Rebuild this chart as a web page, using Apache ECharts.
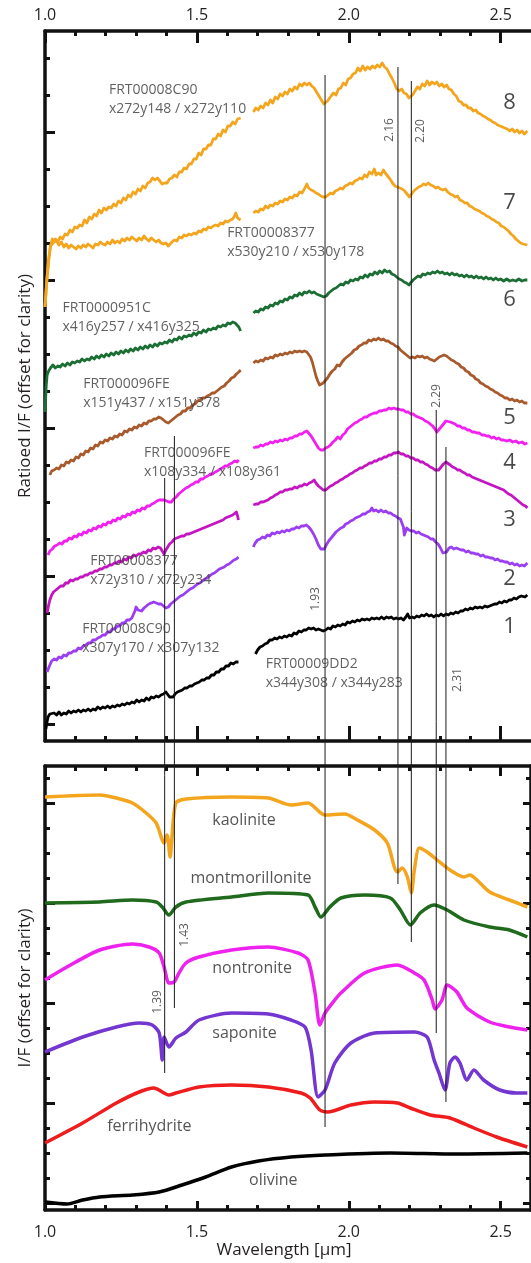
<!DOCTYPE html>
<html><head><meta charset="utf-8">
<script src="https://cdn.jsdelivr.net/npm/echarts@6/dist/echarts.min.js"></script>
<style>html,body{margin:0;padding:0;background:#fff}#c{width:531px;height:1263px}</style>
</head><body><div id="c"></div>
<script>
// ---------- axis ticks ----------
const wlTicks = [1.0, 1.5, 2.0, 2.5];
const wlMinor = [1.1,1.2,1.3,1.4,1.6,1.7,1.8,1.9,2.1,2.2,2.3,2.4];
const topMajor = [0.17,1.65,3.13,4.61,6.09];
const topMinor = [0.54,0.91,1.28,2.02,2.39,2.76,3.50,3.87,4.24,4.98,5.35,5.72,6.46,6.83];
const botMajor = [0.07,1.07,2.07,3.07,4.07];
const botMinor = [0.32,0.57,0.82,1.32,1.57,1.82,2.32,2.57,2.82,3.32,3.57,3.82,4.32];

// ---------- top panel: ratioed CRISM spectra (offset), gap 1.65-1.68 um ----------
const s8 = [[1.000,4.34],[1.006,4.60],[1.012,4.80],[1.018,4.95],[1.026,4.98],[1.034,5.02],[1.042,4.99],[1.050,5.04],[1.058,5.02],[1.066,5.07],[1.074,5.06],[1.082,5.11],[1.090,5.09],[1.098,5.14],[1.106,5.13],[1.114,5.16],[1.122,5.15],[1.130,5.21],[1.138,5.18],[1.146,5.24],[1.154,5.22],[1.162,5.27],[1.170,5.25],[1.178,5.31],[1.186,5.28],[1.194,5.33],[1.202,5.31],[1.210,5.34],[1.218,5.33],[1.226,5.37],[1.234,5.35],[1.242,5.40],[1.250,5.38],[1.258,5.43],[1.266,5.41],[1.274,5.46],[1.282,5.44],[1.290,5.49],[1.298,5.47],[1.306,5.52],[1.314,5.50],[1.322,5.55],[1.330,5.53],[1.338,5.58],[1.346,5.59],[1.354,5.63],[1.362,5.61],[1.370,5.63],[1.378,5.60],[1.386,5.57],[1.394,5.58],[1.402,5.58],[1.410,5.62],[1.418,5.63],[1.426,5.66],[1.434,5.64],[1.442,5.69],[1.450,5.69],[1.458,5.73],[1.466,5.72],[1.474,5.77],[1.482,5.77],[1.490,5.82],[1.498,5.82],[1.506,5.88],[1.514,5.86],[1.522,5.92],[1.530,5.92],[1.538,5.96],[1.546,5.96],[1.554,6.02],[1.562,6.02],[1.570,6.07],[1.578,6.05],[1.586,6.11],[1.594,6.09],[1.602,6.15],[1.610,6.15],[1.618,6.19],[1.626,6.17],[1.634,6.22],[1.644,6.23],[1.665,null],[1.686,6.29],[1.694,6.33],[1.702,6.31],[1.710,6.35],[1.718,6.33],[1.726,6.38],[1.734,6.36],[1.742,6.41],[1.750,6.38],[1.758,6.44],[1.766,6.42],[1.774,6.47],[1.782,6.45],[1.790,6.49],[1.798,6.47],[1.806,6.52],[1.814,6.50],[1.822,6.54],[1.830,6.52],[1.838,6.57],[1.846,6.55],[1.854,6.58],[1.862,6.56],[1.870,6.58],[1.878,6.55],[1.886,6.53],[1.894,6.49],[1.902,6.45],[1.910,6.41],[1.918,6.37],[1.924,6.36],[1.930,6.40],[1.936,6.42],[1.942,6.45],[1.950,6.48],[1.958,6.46],[1.966,6.52],[1.974,6.53],[1.982,6.58],[1.990,6.56],[1.998,6.62],[2.006,6.63],[2.014,6.67],[2.022,6.68],[2.030,6.73],[2.038,6.70],[2.046,6.75],[2.054,6.71],[2.062,6.74],[2.070,6.72],[2.078,6.75],[2.086,6.73],[2.094,6.76],[2.102,6.74],[2.110,6.78],[2.118,6.74],[2.126,6.72],[2.134,6.67],[2.142,6.63],[2.150,6.58],[2.158,6.52],[2.166,6.50],[2.174,6.52],[2.182,6.48],[2.190,6.47],[2.198,6.43],[2.204,6.41],[2.210,6.46],[2.218,6.50],[2.226,6.54],[2.234,6.52],[2.242,6.57],[2.250,6.55],[2.258,6.60],[2.266,6.56],[2.274,6.59],[2.282,6.57],[2.290,6.59],[2.298,6.55],[2.306,6.57],[2.314,6.54],[2.322,6.56],[2.330,6.52],[2.338,6.51],[2.346,6.47],[2.354,6.45],[2.362,6.40],[2.370,6.39],[2.378,6.36],[2.386,6.36],[2.394,6.33],[2.402,6.33],[2.410,6.30],[2.418,6.31],[2.426,6.28],[2.434,6.27],[2.442,6.25],[2.450,6.24],[2.458,6.22],[2.466,6.21],[2.474,6.19],[2.482,6.18],[2.490,6.16],[2.498,6.15],[2.506,6.14],[2.514,6.13],[2.522,6.12],[2.530,6.10],[2.538,6.12],[2.546,6.09],[2.554,6.11],[2.562,6.08],[2.570,6.10],[2.578,6.07],[2.588,6.10]];
const s7 = [[1.000,4.34],[1.006,4.62],[1.012,4.82],[1.018,4.95],[1.024,5.02],[1.030,4.99],[1.038,5.00],[1.046,4.96],[1.054,4.99],[1.062,4.94],[1.070,4.97],[1.078,4.93],[1.086,4.96],[1.094,4.94],[1.102,4.92],[1.110,4.95],[1.118,4.93],[1.126,4.96],[1.134,4.94],[1.142,4.97],[1.150,4.95],[1.158,4.93],[1.166,4.97],[1.174,4.96],[1.182,4.99],[1.190,4.97],[1.198,4.96],[1.206,4.99],[1.214,4.97],[1.222,5.01],[1.230,4.98],[1.238,5.00],[1.246,4.98],[1.254,5.02],[1.262,5.00],[1.270,5.03],[1.278,5.01],[1.286,5.04],[1.294,5.02],[1.302,5.00],[1.310,5.03],[1.318,5.01],[1.326,5.05],[1.334,5.02],[1.342,5.00],[1.350,5.03],[1.358,5.01],[1.366,4.99],[1.374,5.01],[1.382,4.98],[1.390,4.97],[1.398,4.98],[1.406,4.95],[1.412,4.96],[1.418,4.99],[1.426,5.01],[1.434,5.00],[1.442,5.04],[1.450,5.03],[1.458,5.06],[1.466,5.05],[1.474,5.07],[1.482,5.06],[1.490,5.08],[1.498,5.07],[1.506,5.10],[1.514,5.09],[1.522,5.12],[1.530,5.11],[1.538,5.14],[1.546,5.13],[1.554,5.15],[1.562,5.16],[1.570,5.15],[1.578,5.18],[1.586,5.17],[1.594,5.20],[1.602,5.19],[1.610,5.21],[1.618,5.22],[1.624,5.25],[1.628,5.28],[1.634,5.23],[1.644,5.21],[1.665,null],[1.686,5.28],[1.694,5.30],[1.702,5.29],[1.710,5.32],[1.718,5.31],[1.726,5.35],[1.734,5.33],[1.742,5.36],[1.750,5.35],[1.758,5.38],[1.766,5.37],[1.774,5.40],[1.782,5.39],[1.790,5.42],[1.798,5.41],[1.806,5.44],[1.814,5.43],[1.822,5.46],[1.830,5.45],[1.838,5.49],[1.846,5.48],[1.854,5.52],[1.862,5.57],[1.868,5.53],[1.876,5.51],[1.884,5.50],[1.892,5.48],[1.900,5.47],[1.908,5.45],[1.916,5.44],[1.924,5.44],[1.932,5.46],[1.940,5.48],[1.948,5.47],[1.956,5.50],[1.964,5.51],[1.972,5.53],[1.980,5.52],[1.988,5.55],[1.996,5.56],[2.004,5.58],[2.012,5.57],[2.020,5.60],[2.028,5.61],[2.036,5.63],[2.044,5.62],[2.052,5.66],[2.060,5.64],[2.068,5.69],[2.076,5.67],[2.084,5.72],[2.090,5.66],[2.098,5.68],[2.106,5.66],[2.114,5.71],[2.120,5.68],[2.128,5.65],[2.136,5.62],[2.144,5.58],[2.152,5.55],[2.160,5.54],[2.168,5.53],[2.176,5.52],[2.184,5.50],[2.192,5.47],[2.200,5.44],[2.206,5.45],[2.214,5.50],[2.222,5.52],[2.230,5.54],[2.238,5.55],[2.246,5.57],[2.254,5.56],[2.262,5.58],[2.270,5.56],[2.278,5.55],[2.286,5.53],[2.294,5.54],[2.302,5.52],[2.310,5.51],[2.318,5.52],[2.326,5.49],[2.334,5.47],[2.342,5.46],[2.350,5.44],[2.358,5.45],[2.366,5.41],[2.374,5.40],[2.382,5.38],[2.390,5.38],[2.398,5.35],[2.406,5.34],[2.414,5.32],[2.422,5.31],[2.430,5.30],[2.438,5.28],[2.446,5.27],[2.454,5.25],[2.462,5.24],[2.470,5.22],[2.478,5.21],[2.486,5.19],[2.494,5.18],[2.502,5.15],[2.510,5.14],[2.518,5.12],[2.526,5.10],[2.534,5.07],[2.542,5.05],[2.550,5.02],[2.558,5.00],[2.566,4.98],[2.574,4.97],[2.588,4.96]];
const s6 = [[1.000,3.29],[1.004,3.55],[1.007,3.66],[1.012,3.70],[1.018,3.73],[1.026,3.76],[1.034,3.73],[1.042,3.75],[1.050,3.74],[1.058,3.77],[1.066,3.75],[1.074,3.78],[1.082,3.76],[1.090,3.79],[1.098,3.78],[1.106,3.80],[1.114,3.79],[1.122,3.82],[1.130,3.80],[1.138,3.82],[1.146,3.81],[1.154,3.84],[1.162,3.82],[1.170,3.85],[1.178,3.83],[1.186,3.86],[1.194,3.84],[1.202,3.87],[1.210,3.85],[1.218,3.88],[1.226,3.86],[1.234,3.89],[1.242,3.87],[1.250,3.90],[1.258,3.88],[1.266,3.91],[1.274,3.89],[1.282,3.92],[1.290,3.90],[1.298,3.93],[1.306,3.91],[1.314,3.94],[1.322,3.92],[1.330,3.95],[1.338,3.93],[1.346,3.96],[1.354,3.94],[1.362,3.97],[1.370,3.95],[1.378,3.98],[1.386,3.97],[1.394,3.99],[1.402,3.98],[1.410,4.01],[1.418,3.99],[1.426,4.02],[1.434,4.01],[1.442,4.04],[1.450,4.02],[1.458,4.05],[1.466,4.04],[1.474,4.06],[1.482,4.05],[1.490,4.08],[1.498,4.06],[1.506,4.09],[1.514,4.08],[1.522,4.11],[1.530,4.09],[1.538,4.12],[1.546,4.11],[1.554,4.13],[1.562,4.12],[1.570,4.15],[1.578,4.14],[1.586,4.16],[1.594,4.15],[1.602,4.18],[1.610,4.17],[1.618,4.19],[1.626,4.18],[1.632,4.20],[1.638,4.14],[1.644,4.10],[1.665,null],[1.686,4.28],[1.694,4.30],[1.702,4.29],[1.710,4.32],[1.718,4.31],[1.726,4.34],[1.734,4.33],[1.742,4.36],[1.750,4.35],[1.758,4.38],[1.766,4.37],[1.774,4.40],[1.782,4.39],[1.790,4.42],[1.798,4.41],[1.806,4.44],[1.814,4.43],[1.822,4.46],[1.830,4.45],[1.838,4.48],[1.846,4.46],[1.854,4.49],[1.862,4.48],[1.870,4.50],[1.878,4.48],[1.886,4.49],[1.894,4.47],[1.902,4.46],[1.910,4.45],[1.918,4.44],[1.926,4.45],[1.934,4.48],[1.942,4.50],[1.950,4.52],[1.958,4.53],[1.966,4.55],[1.974,4.57],[1.982,4.56],[1.990,4.59],[1.998,4.58],[2.006,4.61],[2.014,4.60],[2.022,4.62],[2.030,4.61],[2.038,4.64],[2.046,4.63],[2.054,4.66],[2.062,4.64],[2.070,4.67],[2.078,4.66],[2.086,4.69],[2.094,4.67],[2.102,4.70],[2.110,4.68],[2.118,4.71],[2.126,4.69],[2.134,4.70],[2.142,4.67],[2.150,4.66],[2.158,4.64],[2.166,4.62],[2.174,4.61],[2.182,4.59],[2.190,4.58],[2.198,4.56],[2.204,4.57],[2.212,4.61],[2.220,4.63],[2.228,4.65],[2.236,4.64],[2.244,4.67],[2.252,4.66],[2.260,4.68],[2.268,4.67],[2.276,4.69],[2.284,4.68],[2.292,4.70],[2.300,4.68],[2.308,4.69],[2.316,4.67],[2.324,4.68],[2.332,4.66],[2.340,4.68],[2.348,4.66],[2.356,4.67],[2.364,4.65],[2.372,4.66],[2.380,4.64],[2.388,4.66],[2.396,4.64],[2.404,4.65],[2.412,4.63],[2.420,4.65],[2.428,4.63],[2.436,4.64],[2.444,4.62],[2.452,4.64],[2.460,4.62],[2.468,4.63],[2.476,4.61],[2.484,4.63],[2.492,4.61],[2.500,4.62],[2.510,4.60],[2.520,4.62],[2.530,4.60],[2.540,4.61],[2.550,4.60],[2.560,4.62],[2.570,4.60],[2.580,4.61],[2.588,4.61]];
const s5 = [[1.016,2.66],[1.022,2.70],[1.030,2.71],[1.038,2.73],[1.046,2.72],[1.054,2.76],[1.062,2.75],[1.070,2.79],[1.078,2.78],[1.086,2.81],[1.094,2.80],[1.102,2.84],[1.110,2.83],[1.118,2.87],[1.126,2.86],[1.134,2.90],[1.142,2.89],[1.150,2.93],[1.158,2.92],[1.166,2.96],[1.174,2.95],[1.182,2.99],[1.190,2.98],[1.198,3.01],[1.206,3.00],[1.214,3.03],[1.222,3.02],[1.230,3.05],[1.238,3.04],[1.246,3.07],[1.254,3.06],[1.262,3.10],[1.270,3.09],[1.278,3.12],[1.286,3.11],[1.294,3.14],[1.302,3.13],[1.310,3.16],[1.318,3.15],[1.326,3.18],[1.334,3.17],[1.342,3.20],[1.350,3.20],[1.358,3.22],[1.366,3.22],[1.374,3.24],[1.382,3.23],[1.390,3.21],[1.398,3.19],[1.406,3.18],[1.414,3.20],[1.422,3.22],[1.430,3.24],[1.438,3.26],[1.446,3.27],[1.454,3.30],[1.462,3.30],[1.470,3.33],[1.478,3.33],[1.486,3.36],[1.494,3.37],[1.502,3.40],[1.510,3.41],[1.518,3.43],[1.526,3.43],[1.534,3.45],[1.542,3.46],[1.550,3.48],[1.558,3.48],[1.566,3.50],[1.574,3.52],[1.582,3.54],[1.590,3.55],[1.598,3.58],[1.606,3.60],[1.614,3.63],[1.622,3.64],[1.630,3.67],[1.638,3.69],[1.644,3.71],[1.665,null],[1.686,3.78],[1.694,3.80],[1.702,3.79],[1.710,3.81],[1.718,3.80],[1.726,3.83],[1.734,3.82],[1.742,3.84],[1.750,3.83],[1.758,3.86],[1.766,3.85],[1.774,3.87],[1.782,3.86],[1.790,3.88],[1.798,3.87],[1.806,3.89],[1.814,3.88],[1.822,3.90],[1.830,3.89],[1.838,3.90],[1.846,3.89],[1.854,3.90],[1.862,3.89],[1.868,3.88],[1.874,3.84],[1.880,3.79],[1.886,3.72],[1.892,3.65],[1.898,3.60],[1.904,3.56],[1.910,3.56],[1.916,3.58],[1.922,3.59],[1.930,3.63],[1.938,3.67],[1.946,3.70],[1.954,3.72],[1.962,3.76],[1.970,3.75],[1.978,3.79],[1.986,3.82],[1.994,3.84],[2.002,3.86],[2.010,3.88],[2.018,3.91],[2.026,3.92],[2.034,3.95],[2.042,3.96],[2.050,3.98],[2.058,3.98],[2.066,4.01],[2.074,4.00],[2.082,4.02],[2.090,4.01],[2.098,4.03],[2.106,4.01],[2.114,4.02],[2.122,4.00],[2.130,4.00],[2.138,3.98],[2.146,3.97],[2.154,3.95],[2.162,3.94],[2.170,3.91],[2.178,3.89],[2.186,3.87],[2.194,3.85],[2.202,3.83],[2.210,3.84],[2.218,3.83],[2.226,3.85],[2.234,3.84],[2.242,3.85],[2.250,3.83],[2.258,3.84],[2.266,3.82],[2.274,3.81],[2.282,3.80],[2.290,3.82],[2.298,3.84],[2.306,3.85],[2.314,3.86],[2.322,3.85],[2.330,3.83],[2.338,3.81],[2.346,3.80],[2.354,3.78],[2.362,3.77],[2.370,3.74],[2.378,3.73],[2.386,3.70],[2.394,3.69],[2.402,3.66],[2.410,3.65],[2.418,3.62],[2.426,3.61],[2.434,3.58],[2.442,3.57],[2.450,3.55],[2.458,3.54],[2.466,3.52],[2.474,3.51],[2.482,3.49],[2.490,3.48],[2.498,3.46],[2.506,3.45],[2.514,3.43],[2.522,3.43],[2.530,3.41],[2.538,3.42],[2.546,3.40],[2.554,3.41],[2.562,3.39],[2.570,3.40],[2.578,3.38],[2.588,3.38]];
const s4 = [[1.010,1.86],[1.016,1.90],[1.024,1.92],[1.032,1.95],[1.040,1.96],[1.048,1.98],[1.056,1.97],[1.064,2.00],[1.072,2.00],[1.080,2.03],[1.088,2.02],[1.096,2.05],[1.104,2.04],[1.112,2.07],[1.120,2.06],[1.128,2.09],[1.136,2.08],[1.144,2.11],[1.152,2.10],[1.160,2.13],[1.168,2.12],[1.176,2.15],[1.184,2.14],[1.192,2.17],[1.200,2.16],[1.208,2.19],[1.216,2.18],[1.224,2.21],[1.232,2.20],[1.240,2.23],[1.248,2.22],[1.256,2.25],[1.264,2.24],[1.272,2.27],[1.280,2.26],[1.288,2.29],[1.296,2.28],[1.304,2.31],[1.312,2.30],[1.320,2.33],[1.328,2.32],[1.336,2.35],[1.344,2.35],[1.352,2.37],[1.360,2.38],[1.368,2.40],[1.376,2.41],[1.384,2.41],[1.392,2.41],[1.400,2.40],[1.408,2.39],[1.416,2.39],[1.424,2.42],[1.432,2.44],[1.440,2.47],[1.448,2.49],[1.456,2.51],[1.464,2.53],[1.472,2.54],[1.480,2.56],[1.488,2.57],[1.496,2.59],[1.504,2.59],[1.512,2.62],[1.520,2.62],[1.528,2.64],[1.536,2.65],[1.544,2.67],[1.552,2.67],[1.560,2.69],[1.568,2.70],[1.576,2.72],[1.584,2.73],[1.592,2.75],[1.600,2.75],[1.608,2.77],[1.616,2.78],[1.624,2.80],[1.632,2.79],[1.638,2.81],[1.660,null],[1.686,2.93],[1.694,2.94],[1.702,2.94],[1.710,2.96],[1.718,2.95],[1.726,2.97],[1.734,2.97],[1.742,2.99],[1.750,2.98],[1.758,3.00],[1.766,2.99],[1.774,3.01],[1.782,3.00],[1.790,3.02],[1.798,3.01],[1.806,3.03],[1.814,3.03],[1.822,3.05],[1.830,3.05],[1.838,3.07],[1.846,3.07],[1.854,3.09],[1.862,3.10],[1.868,3.08],[1.876,3.05],[1.884,3.01],[1.892,2.97],[1.900,2.93],[1.908,2.91],[1.916,2.91],[1.924,2.93],[1.932,2.94],[1.940,2.96],[1.948,2.99],[1.956,3.01],[1.964,3.04],[1.972,3.02],[1.980,3.06],[1.988,3.08],[1.996,3.12],[2.004,3.14],[2.012,3.16],[2.020,3.18],[2.028,3.19],[2.036,3.21],[2.044,3.22],[2.052,3.24],[2.060,3.24],[2.068,3.26],[2.076,3.27],[2.084,3.28],[2.092,3.28],[2.100,3.30],[2.108,3.30],[2.116,3.31],[2.124,3.31],[2.132,3.33],[2.140,3.32],[2.148,3.33],[2.156,3.32],[2.164,3.32],[2.172,3.31],[2.180,3.31],[2.188,3.29],[2.196,3.29],[2.204,3.27],[2.212,3.27],[2.220,3.25],[2.228,3.24],[2.236,3.23],[2.244,3.22],[2.252,3.20],[2.260,3.19],[2.268,3.17],[2.276,3.15],[2.284,3.12],[2.290,3.09],[2.296,3.11],[2.304,3.14],[2.312,3.17],[2.320,3.20],[2.326,3.21],[2.334,3.19],[2.342,3.18],[2.350,3.17],[2.358,3.15],[2.366,3.15],[2.374,3.13],[2.382,3.13],[2.390,3.11],[2.398,3.11],[2.406,3.09],[2.414,3.09],[2.422,3.08],[2.430,3.08],[2.438,3.06],[2.446,3.06],[2.454,3.05],[2.462,3.05],[2.470,3.03],[2.478,3.04],[2.486,3.02],[2.494,3.03],[2.502,3.01],[2.510,3.01],[2.520,3.00],[2.530,3.01],[2.540,2.99],[2.550,3.00],[2.560,2.98],[2.570,2.99],[2.580,2.97],[2.588,2.98]];
const s3 = [[1.007,1.28],[1.012,1.36],[1.016,1.41],[1.022,1.46],[1.028,1.49],[1.036,1.51],[1.044,1.53],[1.052,1.55],[1.060,1.55],[1.068,1.58],[1.076,1.58],[1.084,1.61],[1.092,1.60],[1.100,1.62],[1.108,1.62],[1.116,1.64],[1.124,1.64],[1.132,1.66],[1.140,1.66],[1.148,1.68],[1.156,1.68],[1.164,1.70],[1.172,1.70],[1.180,1.72],[1.188,1.72],[1.196,1.74],[1.204,1.74],[1.212,1.76],[1.220,1.76],[1.228,1.78],[1.236,1.78],[1.244,1.80],[1.252,1.79],[1.260,1.82],[1.268,1.81],[1.276,1.84],[1.284,1.83],[1.292,1.86],[1.300,1.85],[1.308,1.87],[1.316,1.87],[1.324,1.89],[1.332,1.88],[1.340,1.91],[1.348,1.90],[1.356,1.93],[1.364,1.92],[1.372,1.94],[1.380,1.93],[1.386,1.90],[1.392,1.87],[1.398,1.91],[1.404,1.94],[1.410,1.97],[1.418,1.99],[1.426,2.02],[1.434,2.03],[1.442,2.04],[1.450,2.05],[1.458,2.05],[1.466,2.07],[1.474,2.07],[1.482,2.08],[1.490,2.09],[1.498,2.10],[1.506,2.11],[1.514,2.12],[1.522,2.13],[1.530,2.14],[1.538,2.15],[1.546,2.16],[1.554,2.17],[1.562,2.18],[1.570,2.19],[1.578,2.20],[1.586,2.21],[1.594,2.23],[1.602,2.24],[1.610,2.25],[1.618,2.26],[1.624,2.27],[1.630,2.29],[1.634,2.25],[1.637,2.21],[1.660,null],[1.686,2.36],[1.694,2.37],[1.702,2.37],[1.710,2.39],[1.718,2.39],[1.726,2.40],[1.734,2.41],[1.742,2.43],[1.750,2.44],[1.758,2.46],[1.766,2.47],[1.774,2.49],[1.782,2.49],[1.790,2.51],[1.798,2.51],[1.806,2.52],[1.814,2.52],[1.822,2.54],[1.830,2.53],[1.838,2.55],[1.846,2.55],[1.854,2.57],[1.862,2.56],[1.870,2.58],[1.878,2.59],[1.886,2.61],[1.892,2.58],[1.900,2.55],[1.908,2.53],[1.916,2.51],[1.924,2.51],[1.932,2.53],[1.940,2.55],[1.948,2.56],[1.956,2.58],[1.964,2.59],[1.972,2.61],[1.980,2.62],[1.988,2.64],[1.996,2.65],[2.004,2.67],[2.012,2.68],[2.020,2.70],[2.028,2.71],[2.036,2.73],[2.044,2.73],[2.052,2.75],[2.060,2.76],[2.068,2.78],[2.076,2.78],[2.084,2.80],[2.092,2.80],[2.100,2.82],[2.108,2.82],[2.116,2.84],[2.124,2.84],[2.132,2.86],[2.140,2.86],[2.148,2.88],[2.156,2.88],[2.164,2.89],[2.172,2.87],[2.180,2.87],[2.188,2.85],[2.196,2.85],[2.204,2.83],[2.212,2.83],[2.220,2.81],[2.228,2.81],[2.236,2.79],[2.244,2.79],[2.252,2.77],[2.260,2.76],[2.268,2.74],[2.276,2.73],[2.284,2.71],[2.290,2.69],[2.296,2.71],[2.304,2.74],[2.312,2.77],[2.320,2.79],[2.326,2.79],[2.334,2.76],[2.342,2.74],[2.350,2.73],[2.358,2.71],[2.366,2.71],[2.374,2.69],[2.382,2.68],[2.390,2.66],[2.398,2.66],[2.406,2.64],[2.414,2.63],[2.422,2.62],[2.430,2.61],[2.438,2.60],[2.446,2.59],[2.454,2.58],[2.462,2.57],[2.470,2.56],[2.478,2.55],[2.486,2.54],[2.494,2.53],[2.502,2.52],[2.510,2.51],[2.518,2.49],[2.526,2.47],[2.534,2.46],[2.542,2.44],[2.550,2.42],[2.558,2.40],[2.566,2.38],[2.574,2.36],[2.582,2.35],[2.588,2.33]];
const s2 = [[1.007,0.69],[1.012,0.73],[1.016,0.76],[1.022,0.80],[1.030,0.82],[1.038,0.81],[1.046,0.84],[1.054,0.83],[1.062,0.86],[1.070,0.85],[1.078,0.88],[1.086,0.88],[1.094,0.90],[1.102,0.90],[1.110,0.93],[1.118,0.92],[1.126,0.95],[1.134,0.96],[1.142,0.98],[1.150,0.98],[1.158,1.01],[1.166,1.01],[1.174,1.03],[1.182,1.04],[1.190,1.06],[1.198,1.06],[1.206,1.09],[1.214,1.09],[1.222,1.12],[1.230,1.12],[1.238,1.15],[1.246,1.15],[1.254,1.18],[1.262,1.18],[1.270,1.21],[1.278,1.21],[1.286,1.23],[1.292,1.25],[1.296,1.30],[1.300,1.34],[1.306,1.31],[1.312,1.29],[1.318,1.30],[1.326,1.33],[1.334,1.35],[1.342,1.37],[1.350,1.38],[1.358,1.39],[1.366,1.38],[1.374,1.37],[1.382,1.37],[1.390,1.35],[1.398,1.33],[1.406,1.34],[1.414,1.37],[1.422,1.39],[1.430,1.41],[1.438,1.43],[1.446,1.45],[1.454,1.46],[1.462,1.48],[1.470,1.50],[1.478,1.52],[1.486,1.53],[1.494,1.55],[1.502,1.57],[1.510,1.58],[1.518,1.60],[1.526,1.62],[1.534,1.63],[1.542,1.65],[1.550,1.67],[1.558,1.68],[1.566,1.70],[1.574,1.72],[1.582,1.73],[1.590,1.74],[1.598,1.76],[1.606,1.77],[1.614,1.79],[1.622,1.81],[1.630,1.82],[1.637,1.84],[1.660,null],[1.686,1.94],[1.692,1.98],[1.700,2.01],[1.708,2.02],[1.716,2.04],[1.724,2.03],[1.732,2.06],[1.740,2.05],[1.748,2.08],[1.756,2.07],[1.764,2.09],[1.772,2.08],[1.780,2.10],[1.788,2.09],[1.796,2.11],[1.804,2.10],[1.812,2.12],[1.820,2.12],[1.828,2.14],[1.836,2.13],[1.844,2.15],[1.852,2.15],[1.860,2.16],[1.868,2.14],[1.876,2.11],[1.884,2.07],[1.892,2.02],[1.900,1.96],[1.908,1.92],[1.914,1.90],[1.920,1.92],[1.926,1.96],[1.934,2.00],[1.942,2.03],[1.950,2.06],[1.958,2.09],[1.966,2.11],[1.974,2.13],[1.982,2.14],[1.990,2.17],[1.998,2.18],[2.006,2.20],[2.014,2.21],[2.022,2.23],[2.030,2.24],[2.038,2.25],[2.046,2.27],[2.054,2.27],[2.062,2.29],[2.070,2.30],[2.076,2.33],[2.082,2.30],[2.090,2.31],[2.098,2.29],[2.106,2.31],[2.114,2.29],[2.122,2.30],[2.130,2.28],[2.138,2.28],[2.146,2.26],[2.154,2.25],[2.162,2.23],[2.170,2.22],[2.176,2.20],[2.180,2.14],[2.183,2.06],[2.187,2.08],[2.191,2.13],[2.198,2.11],[2.206,2.10],[2.214,2.10],[2.222,2.08],[2.230,2.09],[2.238,2.07],[2.246,2.06],[2.254,2.05],[2.262,2.04],[2.270,2.02],[2.278,2.02],[2.286,1.99],[2.294,1.97],[2.302,1.93],[2.310,1.88],[2.316,1.86],[2.322,1.89],[2.330,1.93],[2.338,1.94],[2.346,1.92],[2.354,1.93],[2.362,1.92],[2.370,1.91],[2.378,1.91],[2.386,1.89],[2.394,1.90],[2.402,1.88],[2.410,1.88],[2.418,1.87],[2.426,1.87],[2.434,1.85],[2.442,1.86],[2.450,1.84],[2.458,1.84],[2.466,1.83],[2.474,1.83],[2.482,1.81],[2.490,1.82],[2.498,1.80],[2.506,1.80],[2.514,1.79],[2.522,1.79],[2.530,1.77],[2.538,1.78],[2.546,1.76],[2.554,1.77],[2.562,1.75],[2.570,1.76],[2.578,1.75],[2.588,1.78]];
const s1 = [[1.003,0.12],[1.006,0.18],[1.010,0.24],[1.016,0.27],[1.022,0.25],[1.030,0.28],[1.038,0.26],[1.046,0.29],[1.054,0.26],[1.062,0.28],[1.070,0.27],[1.078,0.30],[1.086,0.28],[1.094,0.30],[1.102,0.29],[1.110,0.31],[1.118,0.29],[1.126,0.31],[1.134,0.30],[1.142,0.32],[1.150,0.30],[1.158,0.32],[1.166,0.31],[1.174,0.34],[1.182,0.32],[1.190,0.34],[1.198,0.33],[1.206,0.35],[1.214,0.33],[1.222,0.35],[1.230,0.34],[1.238,0.36],[1.246,0.35],[1.254,0.37],[1.262,0.36],[1.270,0.38],[1.278,0.37],[1.286,0.39],[1.294,0.38],[1.302,0.41],[1.310,0.39],[1.318,0.41],[1.326,0.40],[1.334,0.43],[1.342,0.41],[1.350,0.44],[1.358,0.43],[1.366,0.45],[1.374,0.44],[1.382,0.46],[1.390,0.47],[1.398,0.49],[1.404,0.47],[1.410,0.44],[1.416,0.42],[1.422,0.44],[1.428,0.47],[1.436,0.49],[1.444,0.50],[1.452,0.51],[1.460,0.53],[1.468,0.53],[1.476,0.55],[1.484,0.55],[1.492,0.57],[1.500,0.58],[1.508,0.59],[1.516,0.61],[1.524,0.61],[1.532,0.63],[1.540,0.63],[1.548,0.66],[1.556,0.66],[1.564,0.69],[1.572,0.69],[1.580,0.72],[1.588,0.72],[1.596,0.75],[1.604,0.75],[1.612,0.78],[1.620,0.77],[1.628,0.79],[1.637,0.79],[1.665,null],[1.693,0.87],[1.700,0.91],[1.708,0.94],[1.716,0.95],[1.724,0.97],[1.732,0.98],[1.740,1.01],[1.748,1.01],[1.756,1.03],[1.764,1.02],[1.772,1.04],[1.780,1.03],[1.788,1.05],[1.796,1.04],[1.804,1.06],[1.812,1.05],[1.820,1.08],[1.828,1.07],[1.836,1.10],[1.844,1.09],[1.852,1.11],[1.860,1.11],[1.868,1.13],[1.876,1.12],[1.884,1.13],[1.892,1.11],[1.900,1.12],[1.908,1.11],[1.916,1.10],[1.924,1.11],[1.932,1.13],[1.940,1.12],[1.948,1.15],[1.956,1.14],[1.964,1.16],[1.972,1.15],[1.980,1.17],[1.988,1.16],[1.996,1.19],[2.004,1.18],[2.012,1.20],[2.020,1.19],[2.028,1.21],[2.036,1.20],[2.044,1.22],[2.052,1.21],[2.060,1.22],[2.068,1.21],[2.076,1.23],[2.084,1.22],[2.092,1.23],[2.100,1.22],[2.108,1.24],[2.116,1.22],[2.124,1.24],[2.132,1.23],[2.140,1.24],[2.148,1.22],[2.156,1.23],[2.164,1.22],[2.172,1.23],[2.180,1.21],[2.188,1.24],[2.194,1.27],[2.200,1.23],[2.208,1.24],[2.216,1.23],[2.224,1.25],[2.232,1.24],[2.240,1.26],[2.248,1.25],[2.256,1.27],[2.264,1.25],[2.272,1.26],[2.280,1.24],[2.288,1.26],[2.296,1.25],[2.304,1.27],[2.312,1.25],[2.320,1.27],[2.328,1.26],[2.336,1.28],[2.344,1.27],[2.352,1.29],[2.360,1.28],[2.368,1.30],[2.376,1.30],[2.384,1.32],[2.392,1.31],[2.400,1.33],[2.408,1.32],[2.416,1.34],[2.424,1.33],[2.432,1.34],[2.440,1.33],[2.448,1.35],[2.456,1.34],[2.464,1.35],[2.472,1.36],[2.480,1.37],[2.488,1.37],[2.496,1.39],[2.504,1.38],[2.512,1.40],[2.520,1.39],[2.528,1.41],[2.536,1.41],[2.544,1.43],[2.552,1.42],[2.560,1.44],[2.568,1.45],[2.574,1.47],[2.580,1.44],[2.588,1.46]];

// ---------- bottom panel: library spectra (offset) ----------
const kaolinite = [[1.000,4.13],[1.180,4.15],[1.235,4.12],[1.288,4.07],[1.333,3.97],[1.366,3.87],[1.386,3.70],[1.392,3.67],[1.402,3.75],[1.412,3.53],[1.418,3.73],[1.431,4.07],[1.464,4.11],[1.614,4.13],[1.735,4.12],[1.810,4.05],[1.866,4.07],[1.908,3.97],[1.922,3.95],[1.987,3.96],[2.029,3.90],[2.085,3.80],[2.127,3.67],[2.150,3.43],[2.160,3.38],[2.176,3.42],[2.193,3.33],[2.206,3.17],[2.216,3.40],[2.232,3.62],[2.258,3.58],[2.291,3.50],[2.333,3.40],[2.379,3.33],[2.399,3.35],[2.422,3.30],[2.464,3.18],[2.529,3.10],[2.588,3.03]];
const montmorillonite = [[1.000,3.07],[1.180,3.08],[1.288,3.10],[1.366,3.08],[1.386,3.03],[1.408,2.95],[1.431,3.03],[1.464,3.08],[1.614,3.13],[1.735,3.17],[1.866,3.15],[1.889,3.03],[1.908,2.93],[1.938,3.03],[1.974,3.12],[2.052,3.15],[2.137,3.12],[2.170,3.00],[2.203,2.85],[2.235,2.97],[2.281,3.05],[2.324,3.00],[2.379,2.90],[2.464,2.83],[2.529,2.80],[2.588,2.73]];
const nontronite = [[1.000,2.30],[1.072,2.43],[1.180,2.60],[1.288,2.66],[1.343,2.63],[1.376,2.57],[1.392,2.43],[1.408,2.27],[1.425,2.28],[1.441,2.37],[1.464,2.47],[1.507,2.53],[1.614,2.60],[1.735,2.63],[1.833,2.57],[1.866,2.50],[1.889,2.17],[1.905,1.85],[1.922,1.97],[1.954,2.10],[1.974,2.17],[2.052,2.37],[2.160,2.45],[2.216,2.37],[2.248,2.30],[2.275,2.10],[2.284,2.01],[2.307,2.10],[2.324,2.25],[2.356,2.18],[2.389,2.02],[2.464,1.88],[2.529,1.83],[2.588,1.80]];
const saponite = [[1.000,1.58],[1.124,1.73],[1.235,1.83],[1.310,1.87],[1.353,1.85],[1.376,1.77],[1.386,1.50],[1.392,1.73],[1.408,1.63],[1.431,1.72],[1.464,1.78],[1.507,1.90],[1.614,1.97],[1.735,1.96],[1.810,1.90],[1.856,1.83],[1.876,1.60],[1.899,1.13],[1.922,1.20],[1.954,1.47],[2.007,1.67],[2.085,1.77],[2.216,1.78],[2.258,1.73],[2.281,1.50],[2.297,1.37],[2.317,1.20],[2.333,1.47],[2.350,1.53],[2.366,1.47],[2.389,1.30],[2.412,1.40],[2.444,1.30],[2.497,1.20],[2.552,1.17],[2.588,1.17]];
const ferrihydrite = [[1.000,0.67],[1.124,0.87],[1.235,1.07],[1.310,1.18],[1.359,1.22],[1.386,1.18],[1.408,1.15],[1.431,1.17],[1.507,1.23],[1.614,1.25],[1.735,1.23],[1.843,1.17],[1.873,1.12],[1.905,1.00],[1.931,0.98],[2.007,1.05],[2.085,1.08],[2.160,1.07],[2.203,1.02],[2.268,0.95],[2.333,0.92],[2.412,0.82],[2.487,0.73],[2.588,0.63]];
const olivine = [[1.000,0.08],[1.072,0.06],[1.124,0.10],[1.180,0.13],[1.288,0.15],[1.376,0.18],[1.451,0.25],[1.529,0.33],[1.614,0.43],[1.703,0.49],[1.810,0.53],[1.922,0.55],[2.137,0.57],[2.356,0.56],[2.588,0.57]];

// ---------- annotations (overlay coordinates spanning both panels) ----------
const vlLabel = ['1.39','1.43','1.93','2.16','2.20','2.29','2.31'];
const vlX = [1.394, 1.426, 1.922, 2.162, 2.206, 2.288, 2.320];
const vlTop = [7.32, 7.74, 11.35, 11.43, 11.29, 8.00, 7.63];
const vlBottom = [1.37, 2.02, 0.83, 3.26, 2.68, 1.77, 1.08];
const vlLabX = [1.369, 1.458, 1.892, 2.134, 2.235, 2.288, 2.359];
const vlLabY = [2.08, 2.75, 6.11, 10.80, 10.79, 8.14, 5.30];

const specLabels = ['FRT00008C90\nx272y148 / x272y110','FRT00008377\nx530y210 / x530y178','FRT0000951C\nx416y257 / x416y325','FRT000096FE\nx151y437 / x151y378','FRT000096FE\nx108y334 / x108y361','FRT00008377\nx72y310 / x72y234','FRT00008C90\nx307y170 / x307y132','FRT00009DD2\nx344y308 / x344y283'];
const specLabX = [1.209, 1.598, 1.056, 1.124, 1.324, 1.147, 1.121, 1.725];
const specLabY = [11.10, 9.67, 8.92, 8.16, 7.47, 6.39, 5.71, 5.36];

const numLabels = ['1','2','3','4','5','6','7','8'];
const numX = [2.529,2.529,2.529,2.529,2.529,2.529,2.529,2.529];
const numY = [5.83, 6.31, 6.90, 7.47, 7.92, 9.10, 10.07, 11.07];

const minLabels = ['kaolinite','montmorillonite','nontronite','saponite','ferrihydrite','olivine'];
const minX = [1.549, 1.477, 1.549, 1.549, 1.203, 1.670];
const minY = [3.90, 3.32, 2.42, 1.77, 0.84, 0.30];

// ---------- build ----------
const FONT = 'Open Sans';
const AX = '#111';
const chart = echarts.init(document.getElementById('c'), null, {renderer: 'canvas'});

function xAxes(grid, position, majorLen, minorLen, labels, extra) {
  const major = Object.assign({
    type: 'value', gridIndex: grid, position, min: 1.0, max: 2.6,
    axisLine: {show: true, onZero: false, lineStyle: {color: AX, width: 3.5}},
    axisTick: {show: true, inside: true, length: majorLen, customValues: wlTicks, lineStyle: {color: AX, width: 3}},
    axisLabel: {show: labels, customValues: wlTicks, formatter: v => v.toFixed(1), fontFamily: FONT, fontSize: 16, color: '#231f20', margin: 10},
    splitLine: {show: false}
  }, extra || {});
  const minor = {
    type: 'value', gridIndex: grid, position, min: 1.0, max: 2.6,
    axisLine: {show: false, onZero: false},
    axisTick: {show: true, inside: true, length: minorLen, customValues: wlMinor, lineStyle: {color: AX, width: 3}},
    axisLabel: {show: false}, splitLine: {show: false}
  };
  return [major, minor];
}
function yAxes(grid, position, max, majorVals, minorVals, majorLen, minorLen, extra) {
  const major = Object.assign({
    type: 'value', gridIndex: grid, position, min: 0, max,
    axisLine: {show: true, onZero: false, lineStyle: {color: AX, width: 3.5}},
    axisTick: {show: true, inside: true, length: majorLen, customValues: majorVals, lineStyle: {color: AX, width: 3}},
    axisLabel: {show: false}, splitLine: {show: false}
  }, extra || {});
  const minor = {
    type: 'value', gridIndex: grid, position, min: 0, max,
    axisLine: {show: false, onZero: false},
    axisTick: {show: true, inside: true, length: minorLen, customValues: minorVals, lineStyle: {color: AX, width: 3}},
    axisLabel: {show: false}, splitLine: {show: false}
  };
  return [major, minor];
}

const xAxis = [
  ...xAxes(0, 'top', 12, 5, true, {axisLabel: {show: true, customValues: wlTicks, formatter: v => v.toFixed(1), fontFamily: FONT, fontSize: 16, color: '#231f20', margin: 8}}),
  ...xAxes(0, 'bottom', 15, 5, false),
  ...xAxes(1, 'top', 10, 5, false),
  ...xAxes(1, 'bottom', 9, 5, true, {
    axisLabel: {show: true, customValues: wlTicks, formatter: v => v.toFixed(1), fontFamily: FONT, fontSize: 16, color: '#231f20', margin: 14},
    name: 'Wavelength [μm]', nameLocation: 'middle', nameGap: 32,
    nameTextStyle: {fontFamily: FONT, fontSize: 17, color: '#231f20', padding: [0, 8, 0, 0]}
  }),
  {type: 'value', gridIndex: 2, min: 1.0, max: 2.6, show: false}
];
const yAxis = [
  ...yAxes(0, 'left', 7.10, topMajor, topMinor, 10, 5, {
    name: 'Ratioed I/F (offset for clarity)', nameLocation: 'middle', nameGap: 11, nameRotate: 90,
    nameTextStyle: {fontFamily: FONT, fontSize: 17, color: '#231f20'}
  }),
  ...yAxes(1, 'left', 4.44, botMajor, botMinor, 10, 5, {
    name: 'I/F (offset for clarity)', nameLocation: 'middle', nameGap: 11, nameRotate: 90,
    nameTextStyle: {fontFamily: FONT, fontSize: 17, color: '#231f20'}
  }),
  ...yAxes(1, 'right', 4.44, botMajor, botMinor, 8, 5),
  {type: 'value', gridIndex: 2, min: 0, max: 11.79, show: false}
];

function topLine(data, color) {
  return {type: 'line', xAxisIndex: 0, yAxisIndex: 0, data, showSymbol: false, symbol: 'none',
    connectNulls: false, lineStyle: {color, width: 2.8, join: 'round'}, z: 3, silent: true};
}
function botLine(data, color) {
  return {type: 'line', xAxisIndex: 4, yAxisIndex: 2, data, showSymbol: false, symbol: 'none',
    smooth: 0.25, lineStyle: {color, width: 3.5}, z: 3, silent: true};
}

const vlData = [];
vlX.forEach((x, i) => { vlData.push([x, vlTop[i]], [x, vlBottom[i]], [x, null]); });

function textSeries(xs, ys, texts, label) {
  return {type: 'scatter', xAxisIndex: 8, yAxisIndex: 6, symbolSize: 1, itemStyle: {color: 'rgba(0,0,0,0)'},
    silent: true, z: 6,
    data: xs.map((x, i) => ({value: [x, ys[i]], label: Object.assign({show: true, formatter: texts[i]}, label)}))};
}

const option = {
  animation: false,
  backgroundColor: '#fff',
  textStyle: {fontFamily: FONT},
  grid: [
    {left: 45, right: -3, top: 31, height: 710},
    {left: 45, right: -3, top: 766, height: 444},
    {left: 45, right: -3, top: 31, height: 1179}
  ],
  xAxis, yAxis,
  series: [
    topLine(s8, '#F4A51E'), topLine(s7, '#F4A51E'), topLine(s6, '#1B6E34'), topLine(s5, '#A85A2C'),
    topLine(s4, '#F21FF0'), topLine(s3, '#C514C2'), topLine(s2, '#9B3DF2'), topLine(s1, '#000000'),
    botLine(kaolinite, '#F4A51E'), botLine(montmorillonite, '#1F6A1C'), botLine(nontronite, '#EE22EE'),
    botLine(saponite, '#7436D0'), botLine(ferrihydrite, '#EE1C1C'), botLine(olivine, '#000000'),
    {type: 'line', xAxisIndex: 8, yAxisIndex: 6, data: vlData, showSymbol: false, symbol: 'none',
      connectNulls: false, lineStyle: {color: '#1a1a1a', width: 1}, z: 5, silent: true},
    textSeries(vlLabX, vlLabY, vlLabel, {position: 'inside', rotate: 90, fontSize: 12, color: '#333', fontFamily: FONT}),
    textSeries(specLabX, specLabY, specLabels, {position: 'right', distance: 0, fontSize: 14, lineHeight: 19, color: '#3a3a3a', fontFamily: FONT}),
    textSeries(numX, numY, numLabels, {position: 'inside', fontSize: 22, color: '#1a1a1a', fontFamily: FONT}),
    textSeries(minX, minY, minLabels, {position: 'right', distance: 0, fontSize: 16, color: '#2a2a2a', fontFamily: FONT})
  ]
};
chart.setOption(option);
</script>
</body></html>
